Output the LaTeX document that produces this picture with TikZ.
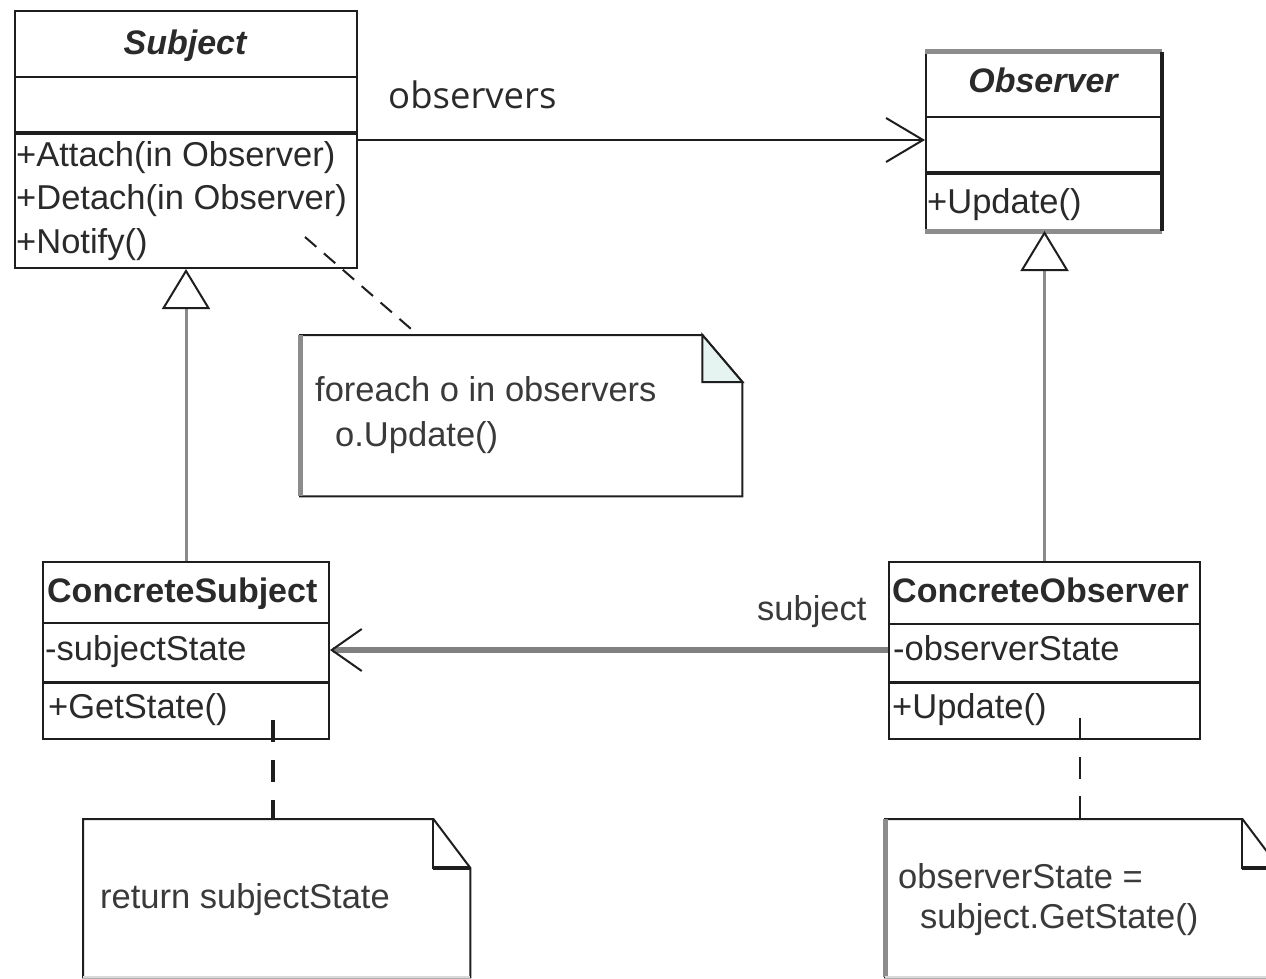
\documentclass[tikz,border=0pt]{standalone}
\usepackage{fontspec}
\setmainfont{Liberation Sans}
\newfontfamily\assocfont{Open Sans}
\usetikzlibrary{arrows.meta,calc}

\definecolor{edge}{HTML}{1E1E1E}
\definecolor{txt}{HTML}{2A2A2A}
\definecolor{notetxt}{HTML}{3A3A3A}
\definecolor{genline}{HTML}{8A8A8A}
\definecolor{linkline}{HTML}{808080}
\definecolor{foldfill}{HTML}{E6F4F1}
\definecolor{shade}{HTML}{8C8C8C}

\begin{document}
\begin{tikzpicture}[x=1pt, y=-1pt,
  classbox/.style={draw=edge, line width=2pt, fill=white, inner sep=0pt, anchor=north west},
  divider/.style={draw=edge, line width=2pt},
  opsdivider/.style={draw=edge, line width=4.5pt},
  classname/.style={font=\fontsize{34}{40}\selectfont\bfseries, text=txt, inner sep=0pt},
  absname/.style={font=\fontsize{34}{40}\selectfont\bfseries\itshape, text=txt, inner sep=0pt, anchor=base},
  member/.style={font=\fontsize{34.5}{40}\selectfont, text=txt, inner sep=0pt, anchor=base west},
  notetext/.style={member, text=notetxt},
  noteframe/.style={inner sep=0pt, anchor=north west},
  noteline/.style={draw=edge, line width=2pt, line join=miter},
  generalize/.style={draw=genline, line width=3pt,
    -{Triangle[open, length=40pt, width=48pt, line width=2pt, color=edge]}},
  navigable/.style={draw=edge, line width=2pt,
    -{Straight Barb[length=37pt, width=44pt, line width=2pt]}},
  attachment/.style={draw=edge, line width=2pt, dash pattern=on 15pt off 10pt},
]
\useasboundingbox (0,0) rectangle (1266,979);

% ---------- Subject ----------
\node[classbox, minimum width=342pt, minimum height=257pt] (subject) at (14,10) {};
\draw[divider] ($(subject.north west)+(0,67)$) -- ($(subject.north east)+(0,67)$);
\draw[opsdivider] ($(subject.north west)+(0,123)$) -- ($(subject.north east)+(0,123)$);
\node[absname] (subjectname) at (185,55) {Subject};
\node[member] (attach) at (16,167) {+Attach(in Observer)};
\node[member] (detach) at (16,209) {+Detach(in Observer)};
\node[member] (notify) at (16,253) {+Notify()};

% ---------- Observer ----------
\node[classbox, minimum width=235pt, minimum height=177pt] (observer) at (925,52) {};
\draw[draw=shade, line width=5pt] (observer.north west) -- (observer.north east);
\draw[draw=shade, line width=5pt] (observer.south west) -- (observer.south east);
\draw[draw=edge, line width=4.5pt] (observer.north east) -- (observer.south east);
\draw[divider] ($(observer.north west)+(0,65)$) -- ($(observer.north east)+(0,65)$);
\draw[opsdivider] ($(observer.north west)+(0,121)$) -- ($(observer.north east)+(0,121)$);
\node[absname] (observername) at (1043,93) {Observer};
\node[member] (obsupdate) at (927,213) {+Update()};

% ---------- ConcreteSubject ----------
\node[classbox, minimum width=286pt, minimum height=177pt] (concsubject) at (42,561) {};
\draw[divider] ($(concsubject.north west)+(0,62)$) -- ($(concsubject.north east)+(0,62)$);
\draw[divider, line width=3pt] ($(concsubject.north west)+(0,121)$) -- ($(concsubject.north east)+(0,121)$);
\node[classname, anchor=base west] (concsubjectname) at (47,602) {ConcreteSubject};
\node[member] (subjectstate) at (45,660) {-subjectState};
\node[member] (getstate) at (48,718) {+GetState()};

% ---------- ConcreteObserver ----------
\node[classbox, minimum width=311pt, minimum height=177pt] (concobserver) at (888,561) {};
\draw[divider] ($(concobserver.north west)+(0,63)$) -- ($(concobserver.north east)+(0,63)$);
\draw[divider, line width=3pt] ($(concobserver.north west)+(0,121)$) -- ($(concobserver.north east)+(0,121)$);
\node[classname, anchor=base west] (concobservername) at (892,602) {ConcreteObserver};
\node[member] (observerstate) at (893,660) {-observerState};
\node[member] (concupdate) at (892,718) {+Update()};

% ---------- Notes ----------
% note attached to Notify()
\node[noteframe, minimum width=442pt, minimum height=161pt] (note1) at (300,335) {};
\draw[noteline, fill=white] (note1.north west) -- ($(note1.north east)+(-40,0)$)
  -- ($(note1.north east)+(0,47)$) -- (note1.south east) -- (note1.south west) -- cycle;
\draw[noteline, fill=foldfill] ($(note1.north east)+(-40,0)$) -- ($(note1.north east)+(-40,47)$)
  -- ($(note1.north east)+(0,47)$) -- cycle;
\draw[draw=shade, line width=5pt] (note1.north west) -- (note1.south west);
\node[notetext] (notifybody) at (315,401) {foreach o in observers};
\node[notetext] (notifybody2) at (335,446) {o.Update()};

% note attached to GetState()
\node[noteframe, minimum width=387pt, minimum height=158pt] (note2) at (83,819) {};
\draw[noteline, fill=white] (note2.north west) -- ($(note2.north east)+(-37,0)$)
  -- ($(note2.north east)+(0,49)$) -- (note2.south east) -- (note2.south west) -- cycle;
\draw[noteline] ($(note2.north east)+(-37,0)$) -- ($(note2.north east)+(-37,49)$)
  -- ($(note2.north east)+(0,49)$);
\draw[draw=edge, line width=4pt] ($(note2.north east)+(-37,49)$) -- ($(note2.north east)+(0,49)$);
\draw[draw=white!70!gray, line width=2pt] (note2.south west) -- (note2.south east);
\node[notetext] (getstatebody) at (100,908) {return subjectState};

% note attached to the concrete Update()
\node[noteframe, minimum width=394pt, minimum height=158pt] (note3) at (885,819) {};
\draw[noteline, fill=white] (note3.north west) -- ($(note3.north east)+(-37,0)$)
  -- ($(note3.north east)+(0,49)$) -- (note3.south east) -- (note3.south west) -- cycle;
\draw[noteline] ($(note3.north east)+(-37,0)$) -- ($(note3.north east)+(-37,49)$)
  -- ($(note3.north east)+(0,49)$);
\draw[draw=edge, line width=4pt] ($(note3.north east)+(-37,49)$) -- ($(note3.north east)+(0,49)$);
\draw[draw=shade, line width=5pt] (note3.north west) -- (note3.south west);
\draw[draw=white!70!gray, line width=2pt] (note3.south west) -- (note3.south east);
\node[notetext] (updatebody) at (898,888) {observerState =};
\node[notetext] (updatebody2) at (920,928) {subject.GetState()};

% ---------- Connectors ----------
\draw[generalize] (concsubject.north) -- (subject.south);
\draw[generalize] (concobserver.north) -- (concobserver.north |- observer.south);

\draw[navigable] ($(subject.north east)+(0,130)$) -- ($(observer.north west)+(0,88)$);
\node[font=\assocfont\fontsize{36.5}{42}\selectfont, text=txt, inner sep=0pt, anchor=base west]
  (observerslabel) at (388,109) {observers};

\draw[draw=linkline, line width=5.5pt,
  -{Straight Barb[length=30pt, width=42pt, line width=2pt, color=edge]}]
  ($(concobserver.north west)+(0,89)$) -- ($(concsubject.north east)+(0,89)$);
\node[member, text=notetxt] (subjectlabel) at (757,620) {subject};

% note attachments
\coordinate (notifyspot) at (305,237);
\draw[attachment] (notifyspot) -- ($(note1.north west)+(118,0)$);
\coordinate (getstatespot) at (273,720);
\draw[attachment, line width=4pt, dash pattern=on 22pt off 18pt] (getstatespot) -- ($(note2.north west)+(190,0)$);
\coordinate (updatespot) at (1080,718);
\draw[attachment, dash pattern=on 22pt off 17pt] (updatespot) -- ($(note3.north west)+(195,0)$);
\end{tikzpicture}
\end{document}
